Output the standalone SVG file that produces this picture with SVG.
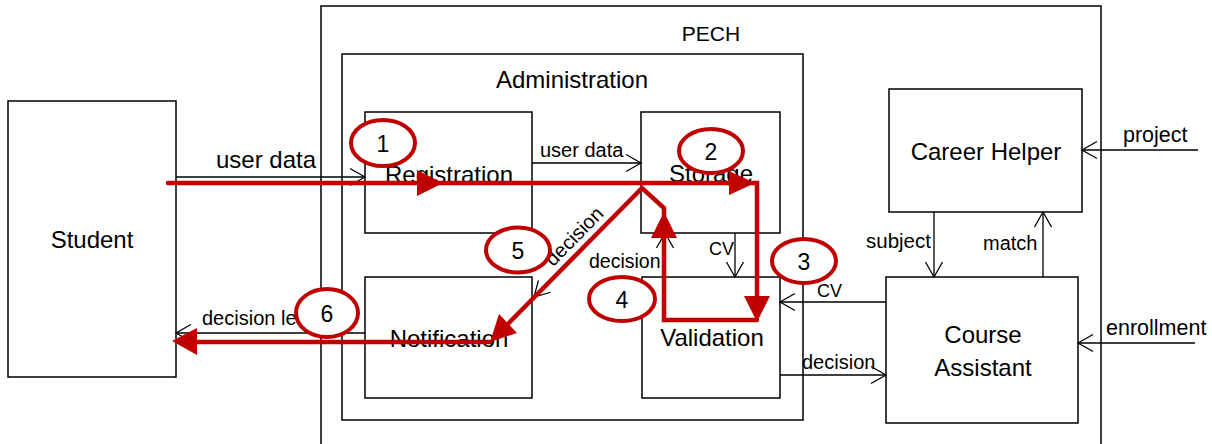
<svg xmlns="http://www.w3.org/2000/svg" width="1212" height="444" viewBox="0 0 1212 444">
<defs>
<style>
.frame{fill:none;stroke:#000;stroke-width:1.5}
.box{fill:#fff;stroke:#000;stroke-width:1.5}
.t{font-family:"Liberation Sans",Arial,sans-serif;fill:#000}
.big{font-size:24px;text-anchor:middle}
.sm{font-size:20px}
.wire{fill:none;stroke:#000;stroke-width:1.3;marker-end:url(#ch)}
.red{fill:none;stroke:#C00000;stroke-width:4.5;stroke-linejoin:miter;stroke-linecap:round}
.rh{fill:#C00000}
.step{fill:#fff;stroke:#C00000;stroke-width:4}
.num{font-family:"Liberation Sans",Arial,sans-serif;font-size:23px;text-anchor:middle;fill:#000}
</style>
<marker id="ch" viewBox="-17 -10 19 20" refX="0" refY="0" markerWidth="19" markerHeight="20" markerUnits="userSpaceOnUse" orient="auto">
<path d="M-15,-8.5 L0,0 L-15,8.5" fill="none" stroke="#000" stroke-width="1.3"/>
</marker>
</defs>

<g id="pech">
<rect class="frame" x="321" y="6" width="780" height="460"/>
<text class="t" x="711" y="41" font-size="21" text-anchor="middle">PECH</text>
</g>
<g id="administration">
<rect class="frame" x="342" y="54" width="461" height="366"/>
<text class="t big" x="572" y="88" font-size="25">Administration</text>
</g>
<g id="student">
<rect class="box" x="8" y="101" width="168" height="276"/>
<text class="t big" x="92" y="248">Student</text>
</g>
<g id="registration">
<rect class="box" x="365" y="112" width="167" height="121"/>
<text class="t big" x="449" y="183">Registration</text>
</g>
<g id="storage">
<rect class="box" x="641" y="112" width="139" height="121"/>
<text class="t big" x="711" y="182">Storage</text>
</g>
<g id="notification">
<rect class="box" x="365" y="277" width="167" height="121"/>
<text class="t big" x="449" y="347">Notification</text>
</g>
<g id="validation">
<rect class="box" x="642" y="277" width="138" height="121"/>
<text class="t big" x="712" y="346">Validation</text>
</g>
<g id="career-helper">
<rect class="box" x="889" y="89" width="193" height="123"/>
<text class="t big" x="986" y="160">Career Helper</text>
</g>
<g id="course-assistant">
<rect class="box" x="886" y="277" width="192" height="146"/>
<text class="t big" x="983" y="343">Course</text>
<text class="t big" x="983" y="376">Assistant</text>
</g>

<g id="connectors">
<path class="wire" d="M176,177 H365"/>
<path class="wire" d="M532,163 H641"/>
<path class="wire" d="M735,233 V277"/>
<path class="wire" d="M665,277 V233"/>
<path class="wire" d="M641,188 L534,297"/>
<path class="wire" d="M365,333 H176"/>
<path class="wire" d="M886,302 H780"/>
<path class="wire" d="M780,375 H886"/>
<path class="wire" d="M934,212 V277"/>
<path class="wire" d="M1043,277 V212"/>
<path class="wire" d="M1198,150 H1082"/>
<path class="wire" d="M1195,343 H1078"/>
<text class="t" x="216" y="168" font-size="24">user data</text>
<text class="t sm" x="540" y="157">user data</text>
<text class="t" x="709" y="255" font-size="18">CV</text>
<text class="t" x="589" y="268" font-size="19.5">decision</text>
<text class="t sm" x="579" y="241" text-anchor="middle" transform="rotate(-45.6 579 241)">decision</text>
<text class="t" x="817" y="297" font-size="18">CV</text>
<text class="t sm" x="802" y="369">decision</text>
<text class="t" x="866" y="248" font-size="20.5">subject</text>
<text class="t sm" x="983" y="250">match</text>
<text class="t" x="1123" y="142" font-size="21.5">project</text>
<text class="t" x="1106" y="335" font-size="21.5">enrollment</text>
<text class="t sm" x="202" y="325">decision le</text>
</g>

<g id="flow">
<path class="red" d="M168,183 H757 V300"/>
<path class="red" d="M757,320 H664 V208 L642,188 L500,332"/>
<path class="red" d="M490,342 H192"/>
<polygon class="rh" points="443,183 417,170 417,196"/>
<polygon class="rh" points="755,183 729,171 729,195"/>
<polygon class="rh" points="757,322 744,296 770,296"/>
<polygon class="rh" points="664,212 651,238 677,238"/>
<polygon class="rh" points="490,342 517,333 499,314"/>
<polygon class="rh" points="172,341 197,328 197,355"/>
</g>

<g id="step1"><ellipse class="step" cx="383" cy="143" rx="32" ry="23"/><text class="num" x="383" y="152">1</text></g>
<g id="step2"><ellipse class="step" cx="711" cy="151" rx="32" ry="22"/><text class="num" x="711" y="160">2</text></g>
<g id="step3"><ellipse class="step" cx="804" cy="261" rx="32" ry="22"/><text class="num" x="804" y="270">3</text></g>
<g id="step4"><ellipse class="step" cx="622" cy="299" rx="33" ry="22"/><text class="num" x="622" y="308">4</text></g>
<g id="step5"><ellipse class="step" cx="518" cy="250" rx="32" ry="22.5"/><text class="num" x="518" y="259">5</text></g>
<g id="step6"><ellipse class="step" cx="327" cy="313" rx="31" ry="24"/><text class="num" x="327" y="322">6</text></g>
</svg>
